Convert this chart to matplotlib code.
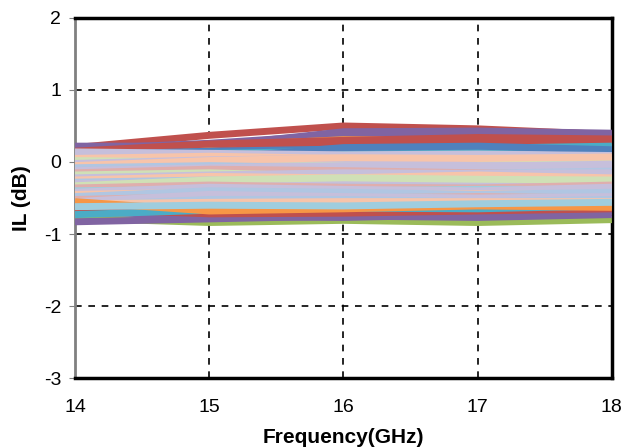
import matplotlib.pyplot as plt

plt.rcParams['font.family'] = ['Liberation Sans', 'DejaVu Sans']

freq = [14, 15, 16, 17, 18]

# Excel-style palette: saturated bases and light tints
red, purple, blue = '#C0504D', '#8064A2', '#4F81BD'
orange, teal, green = '#F79646', '#4BACC6', '#9BBB59'
lav, peach, lgreen = '#C6BFDB', '#F7C4AA', '#D0E0B6'
lblue, lred, lteal = '#B0C6E2', '#DFAEAD', '#9FCDDE'

# upper saturated traces
top_series = [
    ([0.10, 0.20, 0.33, 0.31, 0.27], green),
    ([0.20, 0.37, 0.50, 0.46, 0.38], red),
    ([0.22, 0.22, 0.42, 0.43, 0.40], purple),
    ([0.18, 0.26, 0.38, 0.38, 0.35], purple),
    ([0.12, 0.22, 0.31, 0.30, 0.26], orange),
    ([0.15, 0.25, 0.30, 0.34, 0.32], red),
    ([0.05, 0.15, 0.26, 0.27, 0.30], red),
    ([0.10, 0.15, 0.18, 0.20, 0.18], blue),
    ([0.08, 0.12, 0.15, 0.19, 0.22], teal),
    ([0.02, 0.05, 0.20, 0.22, 0.17], blue),
]

# pastel traces filling the middle of the band
mid_series = [
    ([0.14, 0.12, 0.10, 0.11, 0.09], lav),
    ([0.05, 0.08, 0.05, 0.02, 0.00], peach),
    ([0.02, 0.00, 0.00, -0.02, 0.02], lgreen),
    ([-0.02, 0.03, 0.05, -0.05, -0.05], lav),
    ([-0.05, 0.02, 0.06, 0.05, 0.07], peach),
    ([-0.08, -0.05, -0.08, -0.10, -0.12], lblue),
    ([-0.12, -0.08, -0.05, -0.06, -0.03], lav),
    ([-0.15, -0.10, -0.12, -0.15, -0.18], lred),
    ([-0.18, -0.15, -0.20, -0.22, -0.20], lgreen),
    ([-0.22, -0.18, -0.15, -0.16, -0.15], lav),
    ([-0.25, -0.20, -0.22, -0.18, -0.22], peach),
    ([-0.28, -0.25, -0.28, -0.30, -0.28], lblue),
    ([-0.30, -0.28, -0.25, -0.26, -0.26], lav),
    ([-0.33, -0.25, -0.22, -0.24, -0.25], lgreen),
    ([-0.36, -0.32, -0.35, -0.36, -0.32], lred),
    ([-0.40, -0.38, -0.40, -0.38, -0.38], lteal),
    ([-0.42, -0.35, -0.38, -0.40, -0.35], lav),
    ([-0.45, -0.42, -0.45, -0.44, -0.45], peach),
    ([-0.48, -0.40, -0.42, -0.45, -0.42], lblue),
    ([-0.52, -0.48, -0.50, -0.48, -0.50], lred),
    ([-0.55, -0.45, -0.48, -0.50, -0.48], lav),
    ([-0.60, -0.52, -0.52, -0.55, -0.52], lblue),
    ([-0.58, -0.56, -0.55, -0.55, -0.55], peach),
]

# lower saturated traces
bottom_series = [
    ([-0.78, -0.84, -0.81, -0.84, -0.80], green),
    ([-0.83, -0.79, -0.75, -0.77, -0.73], purple),
    ([-0.68, -0.76, -0.77, -0.73, -0.69], purple),
    ([-0.65, -0.72, -0.71, -0.68, -0.65], red),
    ([-0.73, -0.67, -0.64, -0.65, -0.61], teal),
    ([-0.55, -0.68, -0.65, -0.61, -0.63], orange),
    ([-0.62, -0.60, -0.61, -0.58, -0.56], lteal),
]

fig = plt.figure(figsize=(6.25, 4.48), dpi=100)
ax = fig.add_axes([0.12, 0.156, 0.859, 0.804])

for vals, c in top_series + mid_series + bottom_series:
    ax.plot(freq, vals, color=c, lw=5, solid_capstyle='butt', zorder=3)

ax.set_xlim(14, 18)
ax.set_ylim(-3, 2)
ax.set_xticks(freq)
ax.set_yticks([-3, -2, -1, 0, 1, 2])
ax.set_yticklabels(['-3', '-2', '-1', '0', '1', '2'])

ax.grid(True, color='black', linestyle=(0, (4, 4)), linewidth=1.2, zorder=1)
ax.set_axisbelow(True)

for side in ['top', 'right', 'bottom']:
    ax.spines[side].set_color('black')
    ax.spines[side].set_linewidth(2.5)
ax.spines['left'].set_color('#808080')
ax.spines['left'].set_linewidth(2)

ax.tick_params(axis='y', length=4, color='#808080', pad=6, labelsize=14)
ax.tick_params(axis='x', length=0, pad=15, labelsize=14)

ax.set_xlabel('Frequency(GHz)', fontsize=15, fontweight='bold', labelpad=9)
ax.set_ylabel('IL (dB)', fontsize=15, fontweight='bold', labelpad=9)

fig.savefig('out.png', dpi=100)
